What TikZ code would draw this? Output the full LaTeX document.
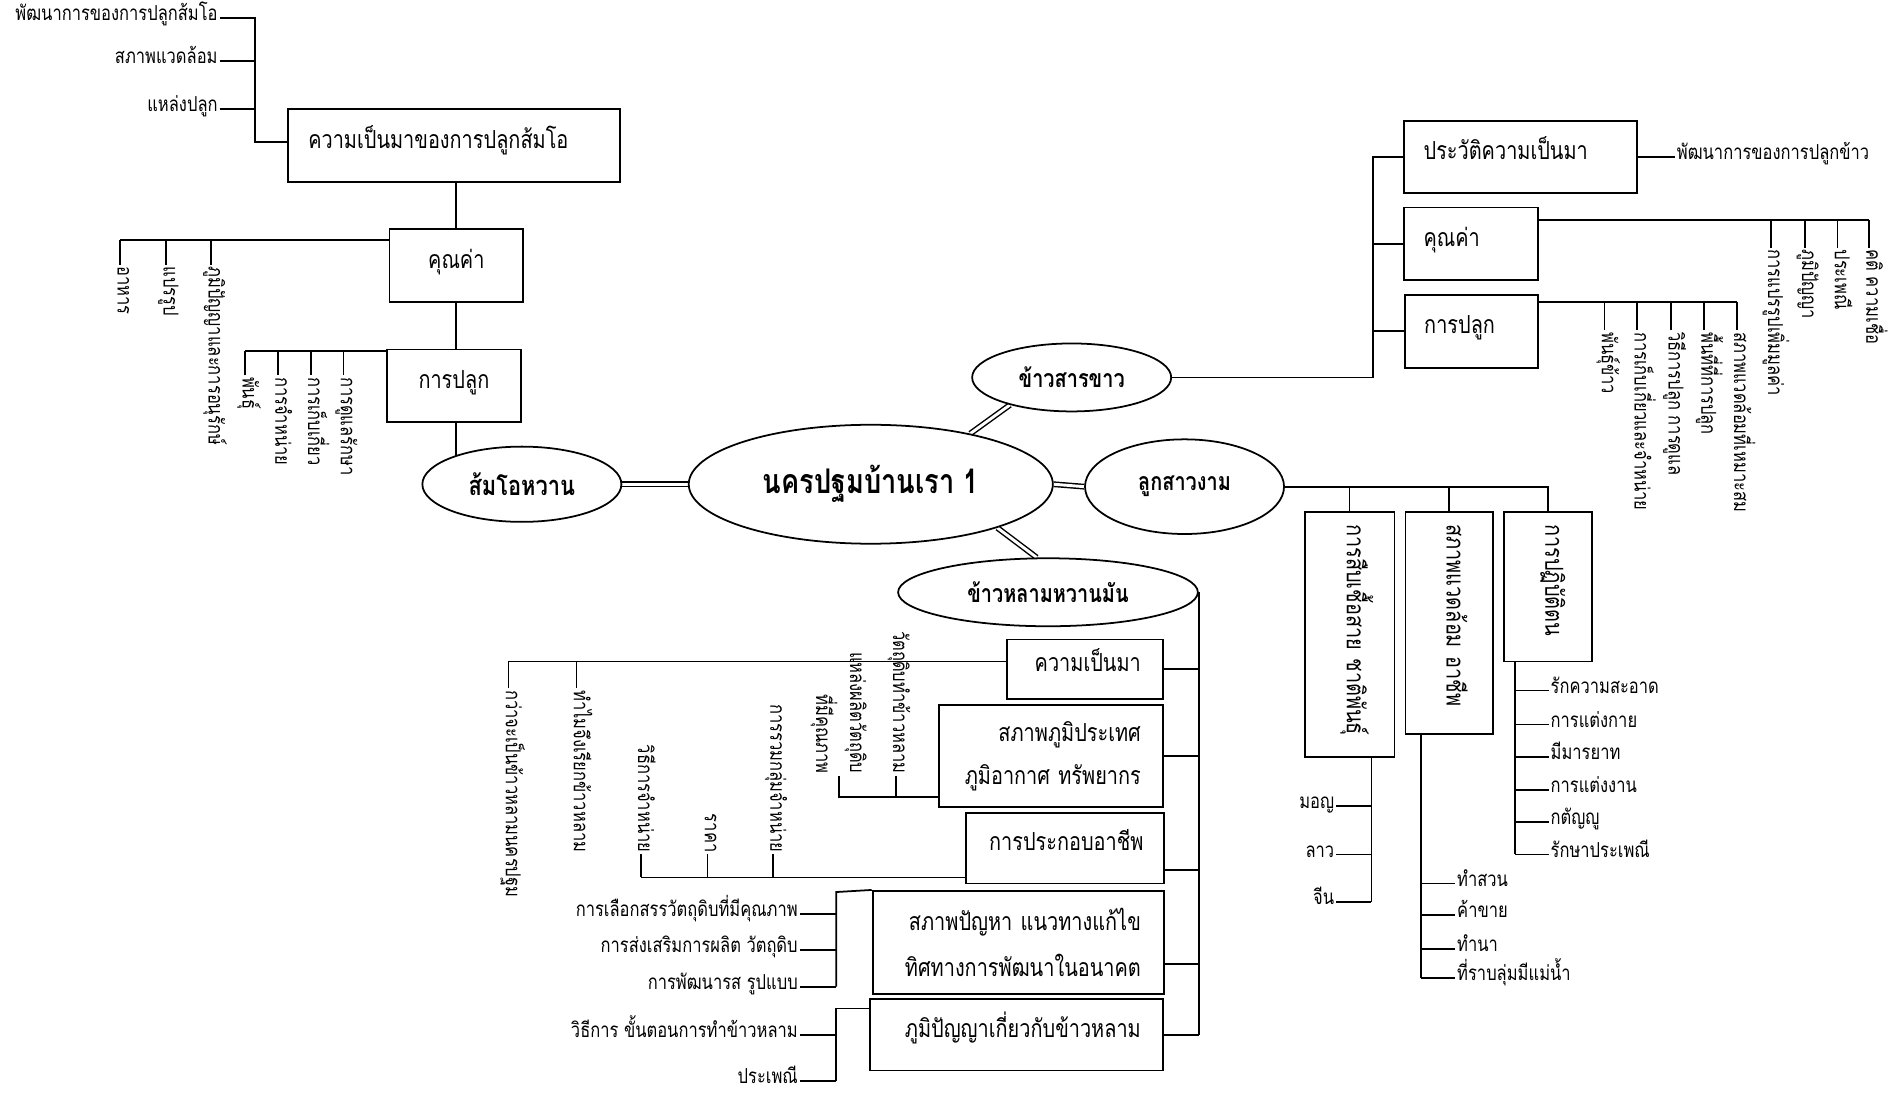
\documentclass[tikz,border=0pt]{standalone}
\usepackage{fontspec}
\usetikzlibrary{shapes.geometric,backgrounds}
\newfontfamily\thaiL[Script=Thai,FakeStretch=0.8]{Loma}
\newfontfamily\thaiB[Script=Thai,FakeStretch=0.8]{Loma}
\begin{document}
\begin{tikzpicture}[x=1pt,y=-1pt,
  every node/.style={inner sep=0pt},
  ln/.style={line width=1.45pt},
  dbl/.style={double,double distance=2.4pt,line width=1.2pt},
  lblf/.style={font=\thaiL\fontsize{17}{28}\selectfont},
  lbl/.style={lblf, text height=1.2ex, text depth=0.2ex, inner sep=1.5pt},
  vlbl/.style={lbl, rotate=-90},
  bxf/.style={font=\thaiL\fontsize{20.5}{35}\selectfont},
  bx/.style={draw, line width=1.45pt, fill=white, bxf, text height=1.2ex, text depth=0.2ex},
  bxm/.style={draw, line width=1.45pt, fill=white, bxf},
  el/.style={draw, ellipse, line width=1.45pt, fill=white, inner sep=0pt, font=\thaiB\bfseries\fontsize{20.5}{22}\selectfont},
]
\useasboundingbox (0,0) rectangle (1568,901);

% ---------- central ellipses ----------
\node[el, minimum width=300, minimum height=98, font=\thaiB\bfseries\fontsize{28}{30}\selectfont] (c) at (717.5,399) {นครปฐมบ้านเรา 1};
\node[el, minimum width=164, minimum height=62, font=\thaiB\bfseries\fontsize{22.5}{24}\selectfont] (sm) at (430,399) {ส้มโอหวาน};
\node[el, minimum width=164, minimum height=56] (ks) at (883,311) {ข้าวสารขาว};
\node[el, minimum width=164, minimum height=78] (lk) at (976,401) {ลูกสาวงาม};
\node[el, minimum width=247, minimum height=56] (kl) at (863.5,488) {ข้าวหลามหวานมัน};

% ---------- ส้มโอหวาน ----------
\node[lbl, anchor=east] (t1) at (181,15) {พัฒนาการของการปลูกส้มโอ};
\node[lbl, anchor=east] (t2) at (181,50) {สภาพแวดล้อม};
\node[lbl, anchor=east] (t3) at (181,90) {แหล่งปลูก};
\coordinate (p1) at (210,15);
\coordinate (p2) at (210,117);
\node[bx, minimum width=274, minimum height=60, text width=240, align=left] (A1) at (374,120) {ความเป็นมาของการปลูกส้มโอ};
\coordinate (colA) at (376,0);
\node[bx, minimum width=110, minimum height=60] (A2) at (376,219) {คุณค่า};
\node[bx, minimum width=110, minimum height=60] (A3) at (374,318) {การปลูก};
\node[vlbl, anchor=west] (a21) at (99,218) {อาหาร};
\node[vlbl, anchor=west] (a22) at (137,218) {แปรรูป};
\node[vlbl, anchor=west] (a23) at (174,218) {ภูมิปัญญาและการอนุรักษ์};
\coordinate (a2b) at (99,198);
\node[vlbl, anchor=west] (a31) at (202,309) {พันธุ์};
\node[vlbl, anchor=west] (a32) at (229,309) {การจำหน่าย};
\node[vlbl, anchor=west] (a33) at (256,309) {การเก็บเกี่ยว};
\node[vlbl, anchor=west] (a34) at (283,309) {การดูแลรักษา};
\coordinate (a3b) at (202,289);

% ---------- ข้าวสารขาว ----------
\node[bx, minimum width=192, minimum height=59, text width=160, align=left] (B1) at (1253,129.5) {ประวัติความเป็นมา};
\node[lbl, anchor=west] (lb1) at (1380,129.5) {พัฒนาการของการปลูกข้าว};
\node[bx, minimum width=110, minimum height=60, text width=78, align=left] (B2) at (1212,201) {คุณค่า};
\node[bx, minimum width=110, minimum height=60, text width=78, align=left] (B3) at (1212.5,273) {การปลูก};
\coordinate (bb) at (1131,311);
\coordinate (b2e) at (1540,181);
\node[vlbl, anchor=west] (b21) at (1459,204) {การแปรรูปเพิ่มมูลค่า};
\node[vlbl, anchor=west] (b22) at (1487,204) {ภูมิปัญญา};
\node[vlbl, anchor=west] (b23) at (1514,204) {ประเพณี};
\node[vlbl, anchor=west] (b24) at (1540,204) {คติ ความเชื่อ};
\coordinate (b3e) at (1431,249);
\node[vlbl, anchor=west] (b31) at (1322,272) {พันธุ์ข้าว};
\node[vlbl, anchor=west] (b32) at (1349,272) {การเก็บเกี่ยวและจำหน่าย};
\node[vlbl, anchor=west] (b33) at (1377,272) {วิธีการปลูก การดูแล};
\node[vlbl, anchor=west] (b34) at (1404,272) {พื้นที่ที่การปลูก};
\node[vlbl, anchor=west] (b35) at (1431,272) {สภาพแวดล้อมที่เหมาะสม};

% ---------- ลูกสาวงาม ----------
\node[bx, rotate=-90, minimum width=202, minimum height=74, text width=182, align=left] (C1) at (1112,523) {การสืบเชื้อสาย ชาติพันธุ์};
\node[bx, rotate=-90, minimum width=183, minimum height=72, text width=163, align=left] (C2) at (1194,513.5) {สภาพแวดล้อม อาชีพ};
\node[bx, rotate=-90, minimum width=123, minimum height=73, text width=103, align=left] (C3) at (1275.5,483.5) {การปฏิบัติตน};
\coordinate (c1v) at (1130,743);
\node[lbl, anchor=east] (m1) at (1101,664) {มอญ};
\node[lbl, anchor=east] (m2) at (1101,704) {ลาว};
\node[lbl, anchor=east] (m3) at (1101,743) {จีน};
\coordinate (c2v) at (1171,806);
\node[lbl, anchor=west] (n1) at (1199,728) {ทำสวน};
\node[lbl, anchor=west] (n2) at (1199,754) {ค้าขาย};
\node[lbl, anchor=west] (n3) at (1199,782) {ทำนา};
\node[lbl, anchor=west] (n4) at (1199,806) {ที่ราบลุ่มมีแม่น้ำ};
\coordinate (c3v) at (1248,704);
\node[lbl, anchor=west] (o1) at (1276,569) {รักความสะอาด};
\node[lbl, anchor=west] (o2) at (1276,597) {การแต่งกาย};
\node[lbl, anchor=west] (o3) at (1276,624) {มีมารยาท};
\node[lbl, anchor=west] (o4) at (1276,651) {การแต่งงาน};
\node[lbl, anchor=west] (o5) at (1276,677) {กตัญญู};
\node[lbl, anchor=west] (o6) at (1276,704) {รักษาประเพณี};

% ---------- ข้าวหลามหวานมัน ----------
\node[bx, minimum width=128, minimum height=49, text width=92, align=right] (D1) at (894,551.5) {ความเป็นมา};
\node[bxm, minimum width=184, minimum height=84, text width=148, align=right] (D2) at (866,623) {สภาพภูมิประเทศ\\ภูมิอากาศ ทรัพยากร};
\node[bx, minimum width=163, minimum height=58, text width=125, align=right] (D3) at (877.5,699) {การประกอบอาชีพ};
\node[bxm, minimum width=240, minimum height=85, text width=202, align=right, font=\thaiL\fontsize{20.5}{38}\selectfont] (D4) at (839,776.5) {สภาพปัญหา แนวทางแก้ไข\\ทิศทางการพัฒนาในอนาคต};
\node[bx, minimum width=241, minimum height=59, text width=205, align=right] (D5) at (837.5,852.5) {ภูมิปัญญาเกี่ยวกับข้าวหลาม};
\coordinate (d1b) at (419,545);
\node[vlbl, anchor=west] (dl1) at (419,567) {กว่าจะเป็นข้าวหลามนครปฐม};
\node[vlbl, anchor=west] (dl2) at (475,567) {ทำไมจึงเรียกข้าวหลาม};
\coordinate (d2b) at (691,657);
\node[lblf, rotate=-90, anchor=east, align=right, inner sep=1.5pt] (dl3) at (691,639) {แหล่งผลิตวัตถุดิบ\\ที่มีคุณภาพ};
\node[vlbl, anchor=east] (dl4) at (738,639) {วัตถุดิบทำข้าวหลาม};
\coordinate (d3b) at (528,723);
\node[vlbl, anchor=east] (dl5) at (528,704) {วิธีการจำหน่าย};
\node[vlbl, anchor=east] (dl6) at (583,704) {ราคา};
\node[vlbl, anchor=east] (dl7) at (637,704) {การรวมกลุ่มจำหน่าย};
\coordinate (d4v) at (689,735);
\node[lbl, anchor=east] (e41) at (659,753) {การเลือกสรรวัตถุดิบที่มีคุณภาพ};
\node[lbl, anchor=east] (e42) at (659,783) {การส่งเสริมการผลิต วัตถุดิบ};
\node[lbl, anchor=east] (e43) at (659,813) {การพัฒนารส รูปแบบ};
\coordinate (d5v) at (689,831);
\node[lbl, anchor=east] (e51) at (659,853) {วิธีการ ขั้นตอนการทำข้าวหลาม};
\node[lbl, anchor=east] (e52) at (659,891) {ประเพณี};
\coordinate (kd3) at (987,717);
\coordinate (kd4) at (987,794);

% ---------- connectors ----------
\begin{scope}[on background layer]
\fill[white] (0,0) rectangle (1568,901);
\draw[dbl] (sm.east) -- (c.west);
\draw[dbl] (c.east) -- (lk.west);
\draw[dbl] (c.27) -- (ks.204);
\draw[dbl] (c.-19) -- (kl.108);
% ส้มโอ
\draw[ln] (t1.east) -- (p1) -- (p2) -- (p2 -| A1.west);
\draw[ln] (t2.east) -- (t2.east -| p1);
\draw[ln] (t3.east) -- (t3.east -| p1);
\draw[ln] (A1.south -| colA) -- (A2.north -| colA);
\draw[ln] (A2.south -| colA) -- (A3.north -| colA);
\draw[ln] (A3.south -| colA) -- (sm.center -| colA);
\draw[ln] (a2b) -- (a2b -| A2.west);
\foreach \n in {a21,a22,a23} \draw[ln] (\n.west) -- (\n.west |- a2b);
\draw[ln] (a3b) -- (a3b -| A3.west);
\foreach \n in {a31,a32,a33,a34} \draw[ln] (\n.west) -- (\n.west |- a3b);
% ข้าวสาร
\draw[ln] (ks.east) -- (bb) -- (bb |- B1.west) -- (B1.west);
\draw[ln] (B2.west) -- (B2.west -| bb);
\draw[ln] (B3.west) -- (B3.west -| bb);
\draw[ln] (B1.east) -- (lb1.west);
\draw[ln] (B2.east |- b2e) -- (b2e);
\foreach \n in {b21,b22,b23,b24} \draw[ln] (\n.west) -- (\n.west |- b2e);
\draw[ln] (B3.east |- b3e) -- (b3e);
\foreach \n in {b31,b32,b33,b34,b35} \draw[ln] (\n.west) -- (\n.west |- b3e);
% ลูกสาว
\draw[ln] (lk.east) -- (C3.west |- lk.east) -- (C3.west);
\draw[ln] (C1.west) -- (C1.west |- lk.east);
\draw[ln] (C2.west) -- (C2.west |- lk.east);
\draw[ln] (c1v |- C1.east) -- (c1v);
\foreach \n in {m1,m2,m3} \draw[ln] (\n.east) -- (\n.east -| c1v);
\draw[ln] (c2v |- C2.east) -- (c2v);
\foreach \n in {n1,n2,n3,n4} \draw[ln] (\n.west) -- (\n.west -| c2v);
\draw[ln] (c3v |- C3.east) -- (c3v);
\foreach \n in {o1,o2,o3,o4,o5,o6} \draw[ln] (\n.west) -- (\n.west -| c3v);
% ข้าวหลาม
\draw[ln] (kl.east) -- (kl.east |- D5.east);
\draw[ln] (D1.east) -- (D1.east -| kl.east);
\draw[ln] (D2.east) -- (D2.east -| kl.east);
\draw[ln] (kd3 -| D3.east) -- (kd3);
\draw[ln] (kd4 -| D4.east) -- (kd4);
\draw[ln] (D5.east) -- (D5.east -| kl.east);
\draw[ln] (d1b -| D1.west) -- (d1b);
\foreach \n in {dl1,dl2} \draw[ln] (\n.west) -- (\n.west |- d1b);
\draw[ln] (d2b -| D2.west) -- (d2b) -- (dl3.east);
\draw[ln] (dl4.east) -- (dl4.east |- d2b);
\draw[ln] (d3b -| D3.west) -- (d3b);
\foreach \n in {dl5,dl6,dl7} \draw[ln] (\n.east) -- (\n.east |- d3b);
\draw[ln] (D4.north west) -- (d4v) -- (d4v |- e43.east);
\foreach \n in {e41,e42,e43} \draw[ln] (\n.east) -- (\n.east -| d4v);
\draw[ln] (d5v -| D5.west) -- (d5v) -- (d5v |- e52.east);
\foreach \n in {e51,e52} \draw[ln] (\n.east) -- (\n.east -| d5v);
\end{scope}
\end{tikzpicture}
\end{document}
